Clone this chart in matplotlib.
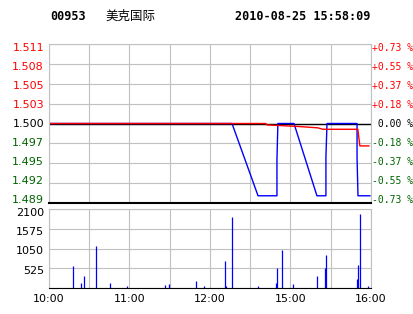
import matplotlib
matplotlib.use("Agg")
from matplotlib import pyplot as plt

# 行情数据（交易分钟：0=10:00，150=12:30/14:30，240=16:00）
code = "00953"
name = "美克国际"
stamp = "2010-08-25 15:58:09"
prev_close = 1.500

price_min = [0, 161.6, 162.4, 184.8, 200.4, 204.1, 230.2, 230.9, 231.7, 238.4]
price_val = [1.500, 1.500, 1.4998, 1.4996, 1.4994, 1.4992, 1.4992, 1.4981, 1.4969, 1.4969]

avg_min = [0, 136.4, 155.8, 169.9, 169.9, 170.6, 182.6, 199.7, 206.4, 206.4, 207.2,
           229.6, 229.6, 230.3, 239.2]
avg_val = [1.500, 1.500, 1.490, 1.490, 1.495, 1.500, 1.500, 1.490, 1.490, 1.4953, 1.500,
           1.500, 1.4953, 1.490, 1.490]

vol_min = [18.1, 24.1, 26.3, 34.8, 45.1, 58.5, 86.1, 89.8, 109.9, 115.9, 131.4, 132.2,
           136.6, 156.0, 169.4, 170.2, 173.9, 182.1, 200.0, 205.9, 206.7, 229.8, 230.5,
           232.0, 238.0]
vol_val = [594, 142, 328, 1125, 142, 62, 89, 115, 195, 62, 727, 62, 1896, 62, 142, 540,
           1019, 115, 328, 540, 886, 248, 620, 1976, 62]

left_labels = ["1.511", "1.508", "1.505", "1.503", "1.500", "1.497", "1.495", "1.492", "1.489"]
right_labels = ["+0.73 %", "+0.55 %", "+0.37 %", "+0.18 %", " 0.00 %",
                "-0.18 %", "-0.37 %", "-0.55 %", "-0.73 %"]
vol_labels = ["2100", "1575", "1050", "525"]
time_labels = ["10:00", "", "11:00", "", "12:00", "", "15:00", "", "16:00"]

W, H = 414, 314
grey = "#c0c0c0"
green = "#006400"


def label_color(i):
    if i < 4:
        return "red"
    if i == 4:
        return "black"
    return green


fig = plt.figure(figsize=(W / 100, H / 100), dpi=100)
fig.patch.set_facecolor("white")

# 价格区
ax = fig.add_axes([49 / W, 111 / H, 322 / W, 159 / H])
ax.set_xlim(0, 240)
ax.set_ylim(1.489, 1.511)
ax.set_yticks([1.489 + 0.00275 * i for i in range(9)])
ax.set_yticklabels([])
ax.set_xticks(range(0, 241, 30))
ax.set_xticklabels([])
ax.tick_params(length=0)
ax.grid(color=grey, lw=0.8)
for s in ["top", "left", "right"]:
    ax.spines[s].set_color(grey)
ax.spines["bottom"].set_color("black")
ax.spines["bottom"].set_linewidth(1.5)

ax.axhline(prev_close, color="black", lw=1)
ax.plot(avg_min, avg_val, color="blue", lw=1)
ax.plot(price_min, price_val, color="red", lw=1)

# 左右刻度文字
for i, (l, r) in enumerate(zip(left_labels, right_labels)):
    yc = 1 - (48 + 18.94 * i) / H
    fig.text(44 / W, yc, l, fontsize=8, color=label_color(i), ha="right", va="center")
    fig.text(372 / W, yc, r, fontsize=7, color=label_color(i), ha="left", va="center",
             family="DejaVu Sans Mono")

# 成交量区
axv = fig.add_axes([49 / W, 26 / H, 322 / W, 79 / H])
axv.set_xlim(0, 240)
axv.set_ylim(0, 2100)
axv.vlines(vol_min, 0, vol_val, color="blue", lw=0.9)
axv.set_yticks([0, 525, 1050, 1575, 2100])
axv.set_yticklabels([])
axv.set_xticks(range(0, 241, 30))
axv.set_xticklabels(time_labels, fontsize=8)
axv.tick_params(length=0, pad=4)
axv.grid(color=grey, lw=0.8)
for s in ["top", "left", "right"]:
    axv.spines[s].set_color(grey)
axv.spines["bottom"].set_color("black")

for i, l in enumerate(vol_labels):
    fig.text(44 / W, 1 - (213 + 19.2 * i) / H, l, fontsize=8, ha="right", va="center")

# 标题
fig.text(50 / W, 1 - 17 / H, code, fontsize=8.5, weight="bold",
         family="DejaVu Sans Mono", va="center")
fig.text(105 / W, 1 - 16 / H, name, fontsize=9, family="Noto Sans CJK SC", va="center")
fig.text(370 / W, 1 - 17 / H, stamp, fontsize=8.5, weight="bold",
         family="DejaVu Sans Mono", va="center", ha="right")

fig.savefig("out.png", dpi=100)
